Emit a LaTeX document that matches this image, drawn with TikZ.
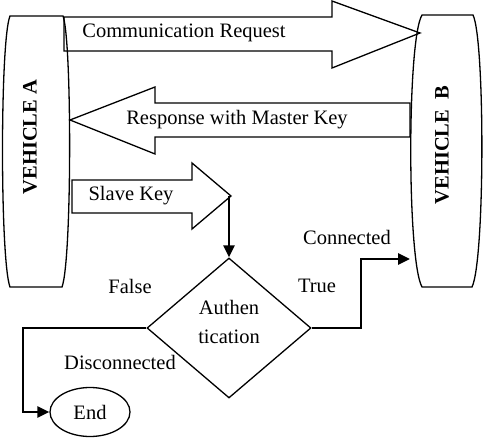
\documentclass[tikz,border=0pt]{standalone}
\usepackage{fontspec}
\setmainfont{Liberation Serif}
\usetikzlibrary{shapes,arrows.meta}

\begin{document}
\begin{tikzpicture}[
    x=1pt, y=-1pt,
    txt/.style={inner sep=0pt, font=\fontsize{20.5}{29}\selectfont, align=center},
    vtxt/.style={inner sep=0pt, font=\fontsize{20.5}{24}\selectfont\bfseries, rotate=90},
    barrel/.style={draw, line width=1.3pt},
    blockarrow/.style={draw, line width=1.3pt, line join=miter},
    decision/.style={diamond, draw, line width=1.3pt, minimum width=164pt, minimum height=140pt, inner sep=0pt},
    term/.style={ellipse, draw, line width=1.3pt, minimum width=80pt, minimum height=49pt, inner sep=0pt, font=\fontsize{20.5}{24}\selectfont},
    arr/.style={-{Triangle[length=12pt,width=11pt]}, line width=2.8pt}
]
\useasboundingbox (0,0) rectangle (484,438);

% Vehicles
\draw[barrel] (10,16) -- (63,16) .. controls (72,40) and (72,260) .. (62,287)
    -- (10,287) .. controls (0,260) and (0,40) .. (10,16) -- cycle;
\node[vtxt] (vA) at (30,137) {VEHICLE A};

\draw[barrel] (422,15) -- (473,15) .. controls (485,40) and (485,260) .. (472,287)
    -- (422,287) .. controls (407,260) and (407,40) .. (422,15) -- cycle;
\node[vtxt] (vB) at (442,145) {VEHICLE~~B};

% Message arrows
\draw[blockarrow] (64,17) -- (332,17) -- (332,1) -- (420,33) -- (332,68) -- (332,51) -- (64,51) -- cycle;
\node[txt] (req) at (184,33) {Communication Request};

\draw[blockarrow] (410,103) -- (155,103) -- (155,87) -- (70,120) -- (155,154) -- (155,137) -- (410,137) -- cycle;
\node[txt] (resp) at (237,120) {Response with Master Key};

\draw[blockarrow] (72,180) -- (192,180) -- (192,163) -- (231,196) -- (192,229) -- (192,213) -- (72,213) -- cycle;
\node[txt] (slave) at (131,196) {Slave Key};
\coordinate (slaveTip) at (229,196);

% Authentication
\node[decision] (auth) at (229,328) {};
\node[txt] (authTxt) at (229,322) {Authen\\tication};
\node[term] (end) at (90,412) {End};
\coordinate (vBin) at (410,259);

\draw[arr] (slaveTip) -- (auth.north);
\draw[arr] (auth.east) -- (361,328) |- (vBin);
\draw[arr] (auth.west) -- (23,328) |- (end.west);

% Labels
\node[txt] (conn) at (347,237) {Connected};
\node[txt] (true) at (317,286) {True};
\node[txt] (false) at (130,286) {False};
\node[txt] (disc) at (120,362) {Disconnected};

\end{tikzpicture}
\end{document}
